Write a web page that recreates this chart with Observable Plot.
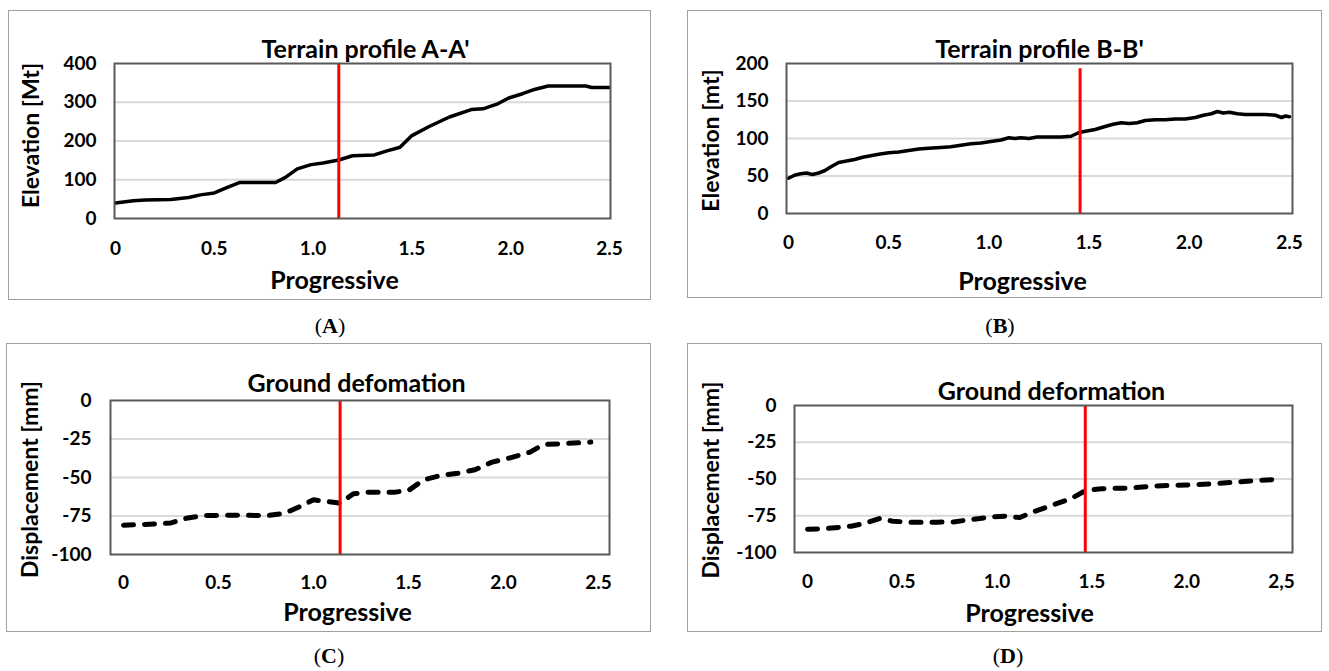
<!DOCTYPE html>
<html><head><meta charset="utf-8">
<script src="https://cdn.jsdelivr.net/npm/d3@7"></script>
<script src="https://cdn.jsdelivr.net/npm/@observablehq/plot@0.6"></script>
<style>
html,body{margin:0;padding:0;background:#fff;}
#root{position:relative;width:1329px;height:671px;overflow:hidden;background:#fff;}
.box{position:absolute;outline:1.5px solid #a0a0a0;outline-offset:-1.5px;}
.box svg{position:absolute;left:0;top:0;overflow:visible;}
.lab{position:absolute;font-family:"Liberation Serif","Times New Roman",serif;font-size:22px;transform:translate(-50%,-50%);white-space:nowrap;color:#000;}
</style></head><body><div id="root"></div>
<script>
// ---- data ----
const xTicks = [0, 0.5, 1.0, 1.5, 2.0, 2.5];
const xTickLabels = ["0", "0.5", "1.0", "1.5", "2.0", "2.5"];
const xTickLabelsD = ["0", "0.5", "1.0", "1.5", "2.0", "2,5"];

const yTicksA = [0, 100, 200, 300, 400];
const yTicksB = [0, 50, 100, 150, 200];
const yTicksDisp = [-100, -75, -50, -25, 0];

const titles = ["Terrain profile A-A'", "Terrain profile B-B'", "Ground defomation", "Ground deformation"];
const yTitles = ["Elevation [Mt]", "Elevation [mt]", "Displacement [mm]", "Displacement [mm]"];
const xTitle = "Progressive";
const panelLetters = ["A", "B", "C", "D"];

const progA = [0,0.09,0.15,0.28,0.37,0.43,0.5,0.56,0.63,0.71,0.81,0.86,0.92,0.99,1.05,1.13,1.2,1.31,1.37,1.44,1.5,1.59,1.69,1.8,1.86,1.93,1.99,2.06,2.12,2.19,2.38,2.41,2.5];
const elevA = [40,46,48,49,54,61,66,79,93,93,93,106,128,139,143,151,162,164,174,184,214,238,262,281,283,295,311,322,333,342,342,338,338];

const progB = [0,0.03,0.06,0.09,0.12,0.15,0.18,0.21,0.25,0.29,0.33,0.37,0.41,0.45,0.5,0.55,0.6,0.65,0.7,0.76,0.81,0.86,0.91,0.96,1.01,1.06,1.1,1.13,1.16,1.2,1.24,1.3,1.36,1.41,1.45,1.49,1.53,1.58,1.62,1.66,1.7,1.74,1.78,1.83,1.88,1.93,1.98,2.03,2.07,2.11,2.14,2.17,2.2,2.24,2.28,2.33,2.38,2.43,2.46,2.48,2.5];
const elevB = [47,51,53,54,52,54,57,62,68,70,72,75,77,79,81,82,84,86,87,88,89,91,93,94,96,98,101,100,101,100,102,102,102,103,108,110,112,116,119,121,120,121,124,125,125,126,126,128,131,133,136,134,135,133,132,132,132,131,128,130,129];

const progC = [0,0.11,0.25,0.33,0.42,0.58,0.76,0.85,0.92,1.0,1.07,1.14,1.21,1.29,1.43,1.5,1.58,1.67,1.76,1.85,1.94,2.03,2.14,2.21,2.3,2.46];
const dispC = [-81,-80.5,-79.5,-76.5,-74.7,-74.5,-74.7,-73.2,-69.3,-64.5,-65.6,-66.7,-60.6,-59.5,-59.5,-58.4,-51.5,-48.7,-47.2,-45,-40,-37.4,-33.5,-28.6,-28.1,-27];

const progD = [0,0.1,0.23,0.3,0.38,0.45,0.54,0.68,0.77,0.86,0.97,1.04,1.12,1.19,1.3,1.39,1.47,1.55,1.71,1.82,2.0,2.15,2.24,2.38,2.5];
const dispD = [-84.2,-83.7,-82.1,-80.3,-76.9,-78.7,-79.4,-79.4,-79.2,-77.6,-75.8,-75.3,-76.2,-72.4,-67.4,-63.3,-57.7,-56.6,-56.1,-54.8,-54.1,-53.2,-52.3,-50.9,-50.2];

const markers = [1.13, 1.455, 1.14, 1.465];
const markerTopB = 193;

// ---- layout ----
const panels = [
  {xs: progA, ys: elevA, yDomain: [0, 400], yTicks: yTicksA, xLabels: xTickLabels, marker: markers[0],
   title: titles[0], yTitle: yTitles[0], letter: panelLetters[0],
   left: 8, top: 10, width: 643, height: 290, ml: 106, mr: 41, mt: 53, mb: 82, il: 1, ir: 1,
   xPad: 23, yPad: 18, tdx: 3, tdy: -14, xdx: -28, xdy: 62, ydx: -83, ydy: -5.5,
   lw: 3.5, dash: null, labX: 330, labY: 326},
  {xs: progB, ys: elevB, yDomain: [0, 200], yTicks: yTicksB, xLabels: xTickLabels, marker: markers[1], markerTop: markerTopB,
   title: titles[1], yTitle: yTitles[1], letter: panelLetters[1],
   left: 687, top: 10, width: 635, height: 288, ml: 99, mr: 30, mt: 53, mb: 85, il: 2, ir: 3,
   xPad: 22, yPad: 18, tdx: 0, tdy: -14, xdx: -17, xdy: 68, ydx: -74.5, ydy: 2,
   lw: 3.5, dash: null, labX: 1000, labY: 326},
  {xs: progC, ys: dispC, yDomain: [-100, 0], yTicks: yTicksDisp, xLabels: xTickLabels, marker: markers[2],
   title: titles[2], yTitle: yTitles[2], letter: panelLetters[2],
   left: 6, top: 343, width: 645, height: 289, ml: 104, mr: 42, mt: 57, mb: 78, il: 13, ir: 11,
   xPad: 21, yPad: 19, tdx: -3.5, tdy: -17, xdx: -12.5, xdy: 58.7, ydx: -79.5, ydy: 2,
   lw: 5, dash: "10,11", labX: 329, labY: 656},
  {xs: progD, ys: dispD, yDomain: [-100, 0], yTicks: yTicksDisp, xLabels: xTickLabelsD, marker: markers[3],
   title: titles[3], yTitle: yTitles[3], letter: panelLetters[3],
   left: 687, top: 343, width: 635, height: 289, ml: 107, mr: 30, mt: 62, mb: 80, il: 13, ir: 11,
   xPad: 22, yPad: 18, tdx: 8, tdy: -14, xdx: -14, xdy: 61, ydx: -82.5, ydy: 1,
   lw: 5, dash: "10,11", labX: 1008, labY: 656}
];

const root = document.getElementById("root");

for (const p of panels) {
  const wrap = document.createElement("div");
  wrap.className = "box";
  Object.assign(wrap.style, {left: p.left + "px", top: p.top + "px", width: p.width + "px", height: p.height + "px"});
  const data = p.xs.map((x, i) => ({x, y: p.ys[i]}));
  const grid = p.yTicks.filter(v => v !== p.yDomain[0] && v !== p.yDomain[1]);
  const lineOpts = {x: "x", y: "y", stroke: "#000", strokeWidth: p.lw, strokeLinejoin: "round", strokeLinecap: "round"};
  if (p.dash) lineOpts.strokeDasharray = p.dash;
  const ruleOpts = {stroke: "#ff0000", strokeWidth: 3};
  if (p.markerTop != null) { ruleOpts.y1 = () => p.yDomain[0]; ruleOpts.y2 = () => p.markerTop; }
  const txt = {text: d => d, fontWeight: 700, fill: "#000", textAnchor: "middle", lineAnchor: "middle"};
  const chart = Plot.plot({
    width: p.width, height: p.height,
    marginLeft: p.ml, marginRight: p.mr, marginTop: p.mt, marginBottom: p.mb,
    style: {fontFamily: "Lato, 'Open Sans', sans-serif", fontWeight: 700, fontSize: "19px", color: "#000", background: "transparent", overflow: "visible"},
    x: {domain: [0, 2.5], ticks: xTicks, tickFormat: d => p.xLabels[xTicks.indexOf(d)], tickSize: 0, tickPadding: p.xPad, label: null, insetLeft: p.il, insetRight: p.ir},
    y: {domain: p.yDomain, ticks: p.yTicks, tickFormat: d => String(d), tickSize: 0, tickPadding: p.yPad, label: null},
    marks: [
      Plot.ruleY(grid, {stroke: "#d9d9d9", strokeWidth: 2}),
      Plot.line(data, lineOpts),
      Plot.ruleX([p.marker], ruleOpts),
      Plot.frame({stroke: "#595959", strokeWidth: 2}),
      Plot.text([p.title], {...txt, frameAnchor: "top", dx: p.tdx, dy: p.tdy, fontSize: 25}),
      Plot.text([xTitle], {...txt, frameAnchor: "bottom", dx: p.xdx, dy: p.xdy, fontSize: 25}),
      Plot.text([p.yTitle], {...txt, frameAnchor: "left", rotate: -90, dx: p.ydx, dy: p.ydy, fontSize: 23})
    ]
  });
  wrap.appendChild(chart);
  root.appendChild(wrap);
  const lab = document.createElement("div");
  lab.className = "lab";
  lab.style.left = p.labX + "px";
  lab.style.top = p.labY + "px";
  lab.innerHTML = "(<b>" + p.letter + "</b>)";
  root.appendChild(lab);
}
</script>
</body></html>
